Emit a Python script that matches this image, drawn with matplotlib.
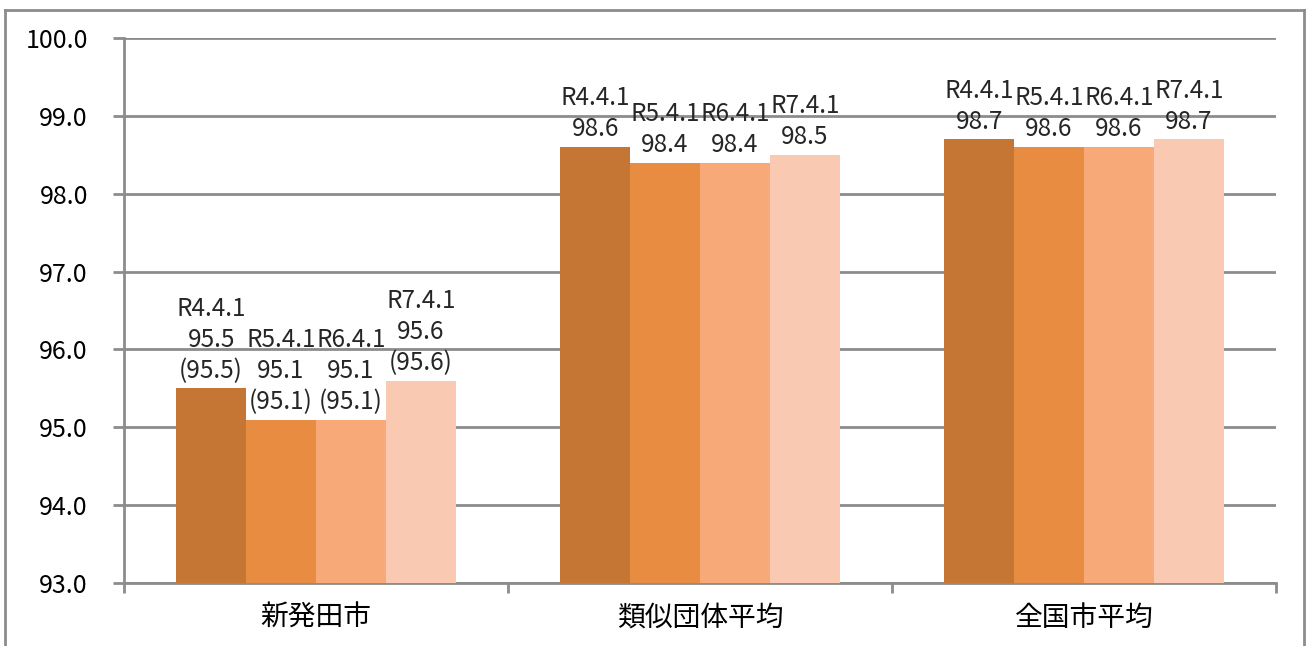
import matplotlib.pyplot as plt
from matplotlib.lines import Line2D
import numpy as np

plt.rcParams['font.family'] = ['Noto Sans CJK JP', 'DejaVu Sans']

categories = ['新発田市', '類似団体平均', '全国市平均']
series = ['R4.4.1', 'R5.4.1', 'R6.4.1', 'R7.4.1']
values = [
    [95.5, 98.6, 98.7],   # R4.4.1
    [95.1, 98.4, 98.6],   # R5.4.1
    [95.1, 98.4, 98.6],   # R6.4.1
    [95.6, 98.5, 98.7],   # R7.4.1
]
# 新発田市の括弧書きの値
paren_values = [95.5, 95.1, 95.1, 95.6]

colors = ['#C57534', '#E88C42', '#F7AA78', '#F9C9B1']
grid_color = '#8C8C8C'

fig = plt.figure(figsize=(13.1, 6.46), dpi=100)
ax = fig.add_axes([124 / 1310, 1 - 583 / 646, 1152 / 1310, 545 / 646])

x = np.arange(len(categories))
w = 0.182
for i, s in enumerate(series):
    pos = x + (i - 1.5) * w
    ax.bar(pos, values[i], width=w, bottom=0, color=colors[i], zorder=3)
    for j, v in enumerate(values[i]):
        if j == 0:
            txt = '%s\n%.1f\n(%.1f)' % (s, v, paren_values[i])
        else:
            txt = '%s\n%.1f' % (s, v)
        ax.text(pos[j], v + 0.06, txt, ha='center', va='bottom',
                fontsize=17.5, color='#262626', linespacing=1.25, zorder=4)

ax.set_ylim(93, 100)
ax.set_xlim(-0.5, 2.5)
ax.set_yticks(np.arange(93, 100.1, 1))
ax.set_yticklabels(['%.1f' % t for t in np.arange(93, 100.1, 1)], fontsize=18)
ax.yaxis.grid(True, color=grid_color, linewidth=2, zorder=0)

ax.set_xticks(x)
ax.set_xticklabels(categories, fontsize=20)
ax.set_xticks([-0.5, 0.5, 1.5, 2.5], minor=True)
ax.tick_params(axis='x', which='major', length=0, pad=14)
ax.tick_params(axis='x', which='minor', length=7, width=2, color=grid_color)
ax.tick_params(axis='y', length=8, width=2, color=grid_color, pad=18)

for side in ['top', 'right']:
    ax.spines[side].set_visible(False)
for side in ['left', 'bottom']:
    ax.spines[side].set_color(grid_color)
    ax.spines[side].set_linewidth(2)

# 外枠
frame_kw = dict(color='#8C8C8C', linewidth=2, transform=fig.transFigure)
fig.add_artist(Line2D([5 / 1310, 5 / 1310], [0, 1 - 10 / 646], **frame_kw))
fig.add_artist(Line2D([5 / 1310, 1304 / 1310], [1 - 10 / 646, 1 - 10 / 646], **frame_kw))
fig.add_artist(Line2D([1304 / 1310, 1304 / 1310], [0, 1 - 10 / 646], **frame_kw))

plt.savefig('out.png', dpi=100)
